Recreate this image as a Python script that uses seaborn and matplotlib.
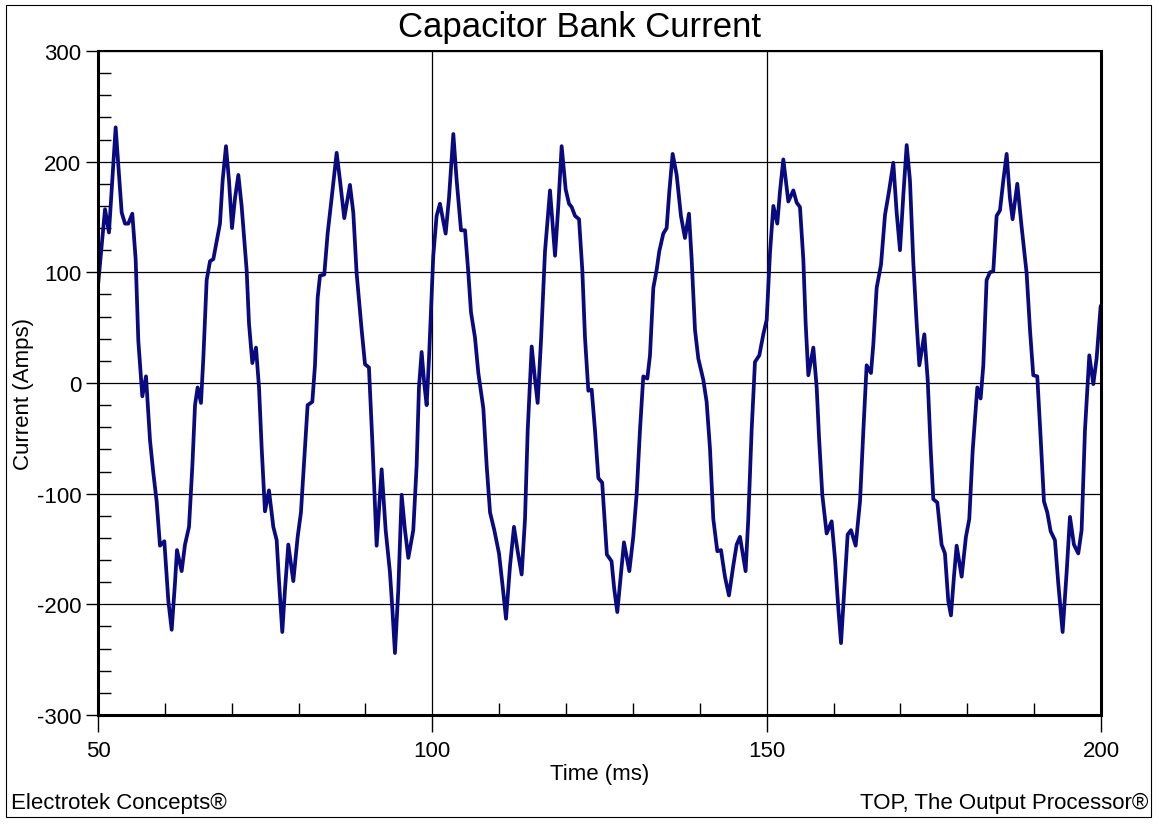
import pandas as pd
import matplotlib
matplotlib.use('Agg')
import matplotlib.pyplot as plt
from matplotlib.ticker import MultipleLocator
from matplotlib.patches import Rectangle
import seaborn as sns

# waveform (time in ms, current in A)
time_ms = [
    50.0, 51.05, 51.64, 52.64, 53.54, 54.04, 54.53, 55.13, 55.63, 56.03,
    56.63, 57.18, 57.78, 58.27, 58.77, 59.27, 59.92, 60.52, 61.02, 61.51,
    61.81, 62.51, 63.01, 63.61, 64.11, 64.51, 64.90, 65.40, 65.75, 66.25,
    66.75, 67.25, 67.75, 68.24, 68.64, 69.14, 69.59, 70.04, 70.49, 70.99,
    71.48, 72.23, 72.58, 73.08, 73.63, 74.08, 74.48, 74.97,
    75.57, 76.22, 76.72, 77.06, 77.56, 77.96, 78.46, 79.21, 79.86, 80.35,
    80.85, 81.35, 82.05, 82.45, 82.85, 83.20, 83.84, 84.34, 84.94, 85.69,
    86.19, 86.83, 87.68, 88.18, 88.68, 89.43, 89.93, 90.52, 91.02, 91.67,
    92.42, 93.02, 93.66, 94.01, 94.41, 94.91, 95.41, 95.91, 96.41, 97.15,
    97.65, 98.00, 98.40, 98.80, 99.15, 99.50, 100.14, 100.64, 101.14,
    101.99, 102.49, 103.14, 103.64, 104.29, 104.89, 105.39, 105.78, 106.38, 106.88,
    107.63, 108.13, 108.63, 109.27, 109.97, 110.52, 111.02, 111.62, 112.21, 112.76,
    113.36, 113.86, 114.26, 114.86, 115.36, 115.75, 116.25, 116.85, 117.60, 118.35,
    118.84, 119.34, 119.94, 120.44, 120.84, 121.34, 121.94, 122.43, 122.83, 123.33,
    123.83, 124.33, 124.83,
    125.40, 126.10, 126.80, 127.20, 127.66, 128.16, 128.66, 129.46, 130.05, 130.55,
    131.05, 131.55, 132.15, 132.55, 133.05, 133.54, 133.94, 134.54, 135.04, 135.44,
    135.94, 136.54, 137.18, 137.78, 138.38, 138.78, 139.28, 139.78, 140.52, 141.02,
    141.52, 142.02, 142.62, 143.17, 143.76, 144.36, 145.01, 145.51, 146.01, 146.85,
    147.25, 147.75, 148.25, 148.90, 149.50, 150.00,
    150.50, 151.00, 151.59, 151.99, 152.49, 153.24, 153.99, 154.49, 154.98, 155.48,
    155.83, 156.23, 156.98, 157.48, 157.83, 158.32, 158.97, 159.72, 160.22, 160.72,
    161.12, 161.61, 162.11, 162.61, 163.31, 163.96, 164.46, 164.95, 165.60, 165.95,
    166.45, 167.10, 167.70, 168.29, 168.94, 169.44, 169.94, 170.44, 170.94, 171.43,
    171.93, 172.43, 172.83, 173.58, 174.08, 174.53, 174.92,
    175.52, 176.16, 176.66, 177.16, 177.56, 178.01, 178.41, 179.16, 179.80, 180.30,
    180.80, 181.50, 182.00, 182.40, 182.89, 183.39, 183.89, 184.39, 184.89, 185.39,
    185.89, 186.38, 186.78, 187.48, 188.13, 188.88, 189.38, 189.87, 190.47, 190.97,
    191.47, 191.97, 192.47, 193.11, 193.61, 194.26, 194.86, 195.36, 195.95, 196.60,
    197.10, 197.60, 198.25, 198.85, 199.34, 199.94, 200.0,
]
current_amps = [
    88, 157, 136, 231, 154, 144, 144, 153, 112, 38,
    -12, 6, -52, -81, -107, -147, -143, -197, -223, -181,
    -151, -170, -146, -130, -75, -20, -4, -18, 22, 93,
    110, 112, 128, 144, 183, 214, 183, 140, 167, 188,
    160, 102, 54, 18, 32, -4, -59, -116,
    -97, -130, -142, -178, -225, -187, -146, -179, -139, -117,
    -68, -20, -17, 16, 77, 97, 98, 135, 167, 208,
    183, 149, 179, 154, 99, 48, 17, 14, -52, -147,
    -78, -133, -171, -203, -244, -187, -101, -133, -158, -133,
    -75, -4, 28, -1, -20, 22, 115, 151, 162,
    135, 167, 225, 183, 138, 138, 99, 64, 41, 9,
    -23, -75, -117, -133, -154, -184, -213, -165, -130, -152,
    -173, -123, -43, 33, 3, -18, 38, 119, 174, 115,
    160, 214, 175, 162, 159, 151, 148, 102, 41, -7,
    -6, -43, -86,
    -90, -155, -161, -186, -207, -175, -144, -170, -139, -101,
    -43, 6, 4, 25, 86, 102, 119, 135, 140, 173,
    207, 188, 151, 131, 153, 112, 48, 22, 3, -17,
    -59, -123, -152, -151, -175, -192, -165, -146, -139, -170,
    -123, -43, 19, 25, 44, 57,
    118, 160, 144, 173, 202, 164, 174, 163, 159, 112,
    54, 7, 32, -4, -49, -101, -136, -125, -159, -204,
    -235, -187, -137, -133, -147, -107, -43, 16, 9, 35,
    86, 107, 152, 173, 199, 154, 120, 170, 215, 183,
    109, 54, 16, 44, 3, -60, -105,
    -108, -146, -154, -197, -210, -175, -147, -175, -139, -123,
    -62, -4, -14, 16, 93, 100, 101, 151, 156, 183,
    207, 167, 148, 180, 141, 99, 48, 7, 6, -49,
    -107, -117, -134, -142, -181, -225, -171, -121, -146, -154,
    -133, -43, 25, -1, 22, 69, 70,
]

title = 'Capacitor Bank Current'
x_label = 'Time (ms)'
y_label = 'Current (Amps)'
footer_left = 'Electrotek Concepts®'
footer_right = 'TOP, The Output Processor®'

sns.set_style('white')
plt.rcParams['font.family'] = ['Liberation Sans', 'DejaVu Sans']
plt.rcParams['axes.unicode_minus'] = False
plt.rcParams['text.color'] = 'black'
plt.rcParams['axes.labelcolor'] = 'black'

W, H = 1159, 829
fig = plt.figure(figsize=(W / 100, H / 100), dpi=100)
ax = fig.add_axes([98 / W, 113 / H, 1003 / W, 664 / H])

df = pd.DataFrame({'time': time_ms, 'current': current_amps})
sns.lineplot(data=df, x='time', y='current', ax=ax, color='#0a0a80',
             linewidth=2.7, estimator=None, sort=False,
             solid_joinstyle='round', solid_capstyle='round')

ax.set_xlim(50, 200)
ax.set_ylim(-300, 300)
ax.xaxis.set_major_locator(MultipleLocator(50))
ax.xaxis.set_minor_locator(MultipleLocator(10))
ax.yaxis.set_major_locator(MultipleLocator(100))
ax.yaxis.set_minor_locator(MultipleLocator(20))

ax.tick_params(axis='x', which='major', direction='out', length=12, width=1,
               pad=6, labelsize=16, colors='black')
ax.tick_params(axis='y', which='major', direction='out', length=9, width=1,
               pad=3, labelsize=16, colors='black')
ax.tick_params(which='minor', direction='in', length=9, width=1, colors='black')
ax.tick_params(bottom=True, left=True, which='both')

ax.set_axisbelow(True)
ax.grid(True, which='major', color='black', linewidth=0.9)

for side in ['left', 'bottom', 'right']:
    ax.spines[side].set_linewidth(2.2)
    ax.spines[side].set_color('black')
ax.spines['top'].set_linewidth(1.5)
ax.spines['top'].set_color('black')

ax.set_xlabel(x_label, fontsize=16, color='black')
ax.xaxis.set_label_coords(0.5, -0.073)
ax.set_ylabel(y_label, fontsize=16, color='black')
ax.yaxis.set_label_coords(-0.064, 0.485)

fig.text(0.5, 1 - 27 / H, title, ha='center', va='center', fontsize=25,
         color='black')
fig.text(11 / W, 1 - 803 / H, footer_left, ha='left', va='center',
         fontsize=16, color='black')
fig.text(1148 / W, 1 - 803 / H, footer_right, ha='right', va='center',
         fontsize=16, color='black')

fig.add_artist(Rectangle((6 / W, 11 / H), 1145 / W, 812 / H,
                         transform=fig.transFigure, fill=False,
                         edgecolor='black', linewidth=0.8))

fig.savefig('out.png', dpi=100)
